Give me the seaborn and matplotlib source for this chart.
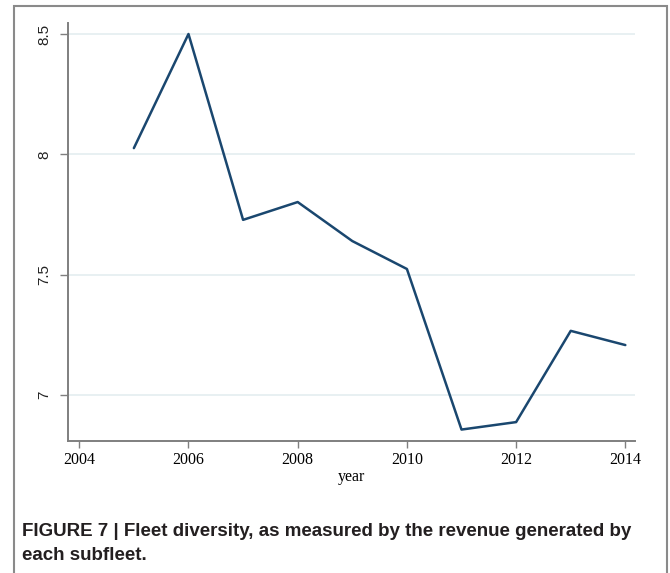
import matplotlib
matplotlib.use("Agg")
import matplotlib.pyplot as plt
import seaborn as sns
import pandas as pd
from matplotlib.patches import Rectangle

# Fleet diversity index by year
years = [2005, 2006, 2007, 2008, 2009, 2010, 2011, 2012, 2013, 2014]
diversity = [8.026, 8.50, 7.728, 7.802, 7.640, 7.524, 6.857, 6.888, 7.267, 7.208]
x_ticks = [2004, 2006, 2008, 2010, 2012, 2014]
y_ticks = [7, 7.5, 8, 8.5]
y_tick_labels = ["7", "7.5", "8", "8.5"]
caption_lines = [
    "FIGURE 7 | Fleet diversity, as measured by the revenue generated by",
    "each subfleet.",
]

df = pd.DataFrame({"year": years, "diversity": diversity})

sns.set_theme(style="white")
fig = plt.figure(figsize=(6.7, 5.73), dpi=100)
ax = fig.add_axes([0.102, 0.231, 0.846, 0.729])

# light horizontal grid at the y ticks
for yv in y_ticks:
    ax.axhline(yv, color="#e8f0f2", lw=1.4, zorder=0)

sns.lineplot(data=df, x="year", y="diversity", ax=ax, color="#1a476f",
             lw=1.8, zorder=3)

ax.set_xlim(2003.8, 2014.18)
ax.set_ylim(6.811, 8.546)
ax.set_xticks(x_ticks)
ax.set_xticklabels([str(t) for t in x_ticks], family="Liberation Serif",
                   fontsize=11.5, color="black")
ax.set_yticks(y_ticks)
ax.set_yticklabels(y_tick_labels, family="Liberation Sans", fontsize=11,
                   color="#222222", rotation=90, va="center")
ax.set_xlabel("year", family="Liberation Serif", fontsize=11.5, color="black",
              labelpad=1)
ax.set_ylabel("")

for side in ("top", "right"):
    ax.spines[side].set_visible(False)
for side in ("left", "bottom"):
    ax.spines[side].set_color("#7f7f7f")
    ax.spines[side].set_linewidth(1.4)
ax.tick_params(axis="x", which="major", direction="out", length=5,
               width=1.0, color="#7f7f7f", bottom=True, pad=3)
ax.tick_params(axis="y", which="major", direction="out", length=5.5,
               width=1.0, color="#7f7f7f", left=True, pad=7)

# frame around the whole figure
fig.patches.append(Rectangle((14 / 670, -0.05), (667 - 14) / 670, 1.05 - 6 / 573,
                             transform=fig.transFigure, fill=False,
                             edgecolor="#8a8a8a", lw=1.5, zorder=10))

for i, line in enumerate(caption_lines):
    fig.text(22 / 670, 1 - (531 + 25 * i) / 573, line, family="Liberation Sans",
             fontweight="bold", fontsize=13.5, color="#231f20", va="center",
             ha="left")

fig.savefig("out.png", dpi=100, facecolor="white")
